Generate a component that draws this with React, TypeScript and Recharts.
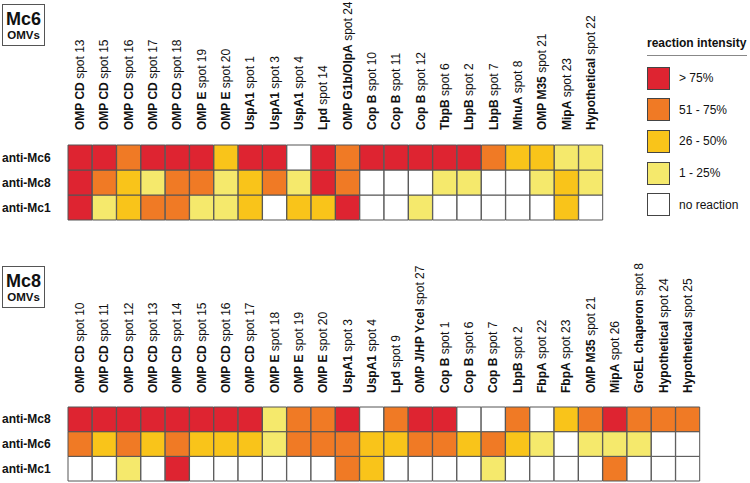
import React from 'react';
import { BarChart, Bar, XAxis, YAxis, Cell } from 'recharts';

const FONT = '"Liberation Sans", Arial, Helvetica, sans-serif';

// colour per reaction level: 0 = none ... 4 = > 75%
const LEVEL_COLORS = ['#ffffff', '#f5e96c', '#f9c41a', '#f07a25', '#de2431'];
const LEVEL_LABELS = ['no reaction', '1 - 25%', '26 - 50%', '51 - 75%', '> 75%'];

// Mc6 OMVs panel
const mc6Proteins = [
  'OMP CD', 'OMP CD', 'OMP CD', 'OMP CD', 'OMP CD', 'OMP E', 'OMP E', 'UspA1', 'UspA1', 'UspA1', 'Lpd',
  'OMP G1b/OlpA', 'Cop B', 'Cop B', 'Cop B', 'TbpB', 'LbpB', 'LbpB', 'MhuA', 'OMP M35', 'MipA', 'Hypothetical',
];
const mc6Spots = [13, 15, 16, 17, 18, 19, 20, 1, 3, 4, 14, 24, 10, 11, 12, 6, 2, 7, 8, 21, 23, 22];
const mc6RowNames = ['anti-Mc6', 'anti-Mc8', 'anti-Mc1'];
const mc6AntiMc6 = [4, 4, 3, 4, 4, 4, 2, 4, 4, 0, 4, 3, 4, 4, 4, 4, 4, 3, 2, 2, 1, 1];
const mc6AntiMc8 = [4, 3, 2, 1, 3, 3, 1, 2, 3, 1, 4, 3, 0, 0, 0, 1, 1, 0, 0, 1, 2, 1];
const mc6AntiMc1 = [4, 1, 2, 3, 3, 1, 1, 2, 0, 2, 2, 4, 0, 0, 1, 0, 0, 0, 0, 0, 2, 0];

// Mc8 OMVs panel
const mc8Proteins = [
  'OMP CD', 'OMP CD', 'OMP CD', 'OMP CD', 'OMP CD', 'OMP CD', 'OMP CD', 'OMP CD', 'OMP E', 'OMP E', 'OMP E',
  'UspA1', 'UspA1', 'Lpd', 'OMP J/HP YceI', 'Cop B', 'Cop B', 'Cop B', 'LbpB', 'FbpA', 'FbpA', 'OMP M35',
  'MipA', 'GroEL chaperon', 'Hypothetical', 'Hypothetical',
];
const mc8Spots = [10, 11, 12, 13, 14, 15, 16, 17, 18, 19, 20, 3, 4, 9, 27, 1, 6, 7, 2, 22, 23, 21, 26, 8, 24, 25];
const mc8RowNames = ['anti-Mc8', 'anti-Mc6', 'anti-Mc1'];
const mc8AntiMc8 = [4, 4, 4, 4, 4, 4, 4, 4, 1, 3, 3, 4, 0, 3, 4, 4, 0, 0, 3, 0, 2, 3, 4, 3, 3, 3];
const mc8AntiMc6 = [3, 2, 3, 2, 3, 2, 2, 2, 1, 3, 3, 3, 2, 2, 3, 3, 2, 3, 2, 1, 0, 1, 1, 1, 0, 0];
const mc8AntiMc1 = [0, 0, 1, 0, 4, 0, 0, 0, 0, 0, 0, 3, 2, 0, 0, 0, 0, 1, 0, 0, 0, 0, 3, 0, 0, 0];

interface PanelProps {
  proteins: string[];
  spots: number[];
  rowNames: string[];
  rows: number[][];
  width: number;
  height: number;
  right: number;
  bottom: number;
  axisHeight: number;
  labelGap: number;
}

function HeatPanel({ proteins, spots, rowNames, rows, width, height, right, bottom, axisHeight, labelGap }: PanelProps) {
  // every cell is one unit tall; the colour carries the value
  const data = proteins.map((p, i) => {
    const d: Record<string, string | number> = { name: `${p} spot ${spots[i]}`, protein: p, spot: spots[i] };
    rowNames.forEach((r) => { d[r] = 1; });
    return d;
  });
  const stackOrder = rowNames.map((_, i) => rowNames.length - 1 - i); // bottom row first

  const XTick = ({ x, y, payload }: any) => {
    const i = payload.index;
    return (
      <g transform={`translate(${x + 4},${y - labelGap}) rotate(-90)`}>
        <text x={0} y={0} textAnchor="start" fontFamily={FONT} fontSize={12} fill="#111">
          <tspan fontWeight="bold">{proteins[i]}</tspan>
          <tspan>{` spot ${spots[i]}`}</tspan>
        </text>
      </g>
    );
  };

  const YTick = ({ y, payload }: any) => {
    const idx = rowNames.length - 1 - Math.floor(payload.value);
    return (
      <text x={2} y={y} dy={4} textAnchor="start" fontFamily={FONT} fontSize={12} fontWeight="bold" fill="#111">
        {rowNames[idx]}
      </text>
    );
  };

  return (
    <BarChart
      width={width}
      height={height}
      data={data}
      margin={{ top: 0, right, bottom, left: 0 }}
      barCategoryGap={0}
      barGap={0}
    >
      <XAxis
        dataKey="name"
        orientation="top"
        height={axisHeight}
        interval={0}
        tickLine={false}
        axisLine={false}
        tickSize={0}
        tickMargin={0}
        tick={<XTick />}
      />
      <YAxis
        type="number"
        domain={[0, rowNames.length]}
        ticks={rowNames.map((_, i) => i + 0.5)}
        width={68}
        tickLine={false}
        axisLine={false}
        tick={<YTick />}
      />
      {stackOrder.map((r) => (
        <Bar key={rowNames[r]} dataKey={rowNames[r]} stackId="grid" isAnimationActive={false}>
          {rows[r].map((v, i) => (
            <Cell key={i} fill={LEVEL_COLORS[v]} stroke="#555" strokeWidth={1} />
          ))}
        </Bar>
      ))}
    </BarChart>
  );
}

function PanelBadge({ title, top }: { title: string; top: number }) {
  return (
    <div
      style={{
        position: 'absolute', left: 2, top, width: 41, height: 40, border: '1px solid #555',
        fontFamily: FONT, fontWeight: 'bold', textAlign: 'center', color: '#111', background: '#fff',
      }}
    >
      <div style={{ fontSize: 18, lineHeight: '20px', marginTop: 4 }}>{title}</div>
      <div style={{ fontSize: 11.5, lineHeight: '13px' }}>OMVs</div>
    </div>
  );
}

function IntensityLegend() {
  const order = [4, 3, 2, 1, 0];
  return (
    <div style={{ position: 'absolute', left: 647, top: 36, width: 103, fontFamily: FONT, color: '#111' }}>
      <div style={{ fontSize: 12, fontWeight: 'bold', paddingBottom: 5, borderBottom: '1px solid #888', width: 100 }}>
        reaction intensity
      </div>
      <div style={{ marginTop: 10 }}>
        {order.map((lvl) => (
          <div key={lvl} style={{ display: 'flex', alignItems: 'center', height: 24, marginBottom: 7.7 }}>
            <span
              style={{
                width: 23, height: 23, background: LEVEL_COLORS[lvl], border: '1px solid #444',
                boxSizing: 'border-box', display: 'inline-block', flexShrink: 0,
              }}
            />
            <span style={{ fontSize: 12, marginLeft: 9 }}>{LEVEL_LABELS[lvl]}</span>
          </div>
        ))}
      </div>
    </div>
  );
}

export default function App() {
  return (
    <div style={{ position: 'absolute', left: 0, top: 0, width: 750, height: 483, background: '#fff', overflow: 'hidden' }}>
      <div style={{ position: 'absolute', left: 0, top: 0 }}>
        <HeatPanel
          proteins={mc6Proteins}
          spots={mc6Spots}
          rowNames={mc6RowNames}
          rows={[mc6AntiMc6, mc6AntiMc8, mc6AntiMc1]}
          width={750}
          height={225}
          right={147}
          bottom={5}
          axisHeight={145}
          labelGap={15}
        />
      </div>
      <div style={{ position: 'absolute', left: 0, top: 240 }}>
        <HeatPanel
          proteins={mc8Proteins}
          spots={mc8Spots}
          rowNames={mc8RowNames}
          rows={[mc8AntiMc8, mc8AntiMc6, mc8AntiMc1]}
          width={750}
          height={243}
          right={50}
          bottom={2}
          axisHeight={167}
          labelGap={14}
        />
      </div>
      <PanelBadge title="Mc6" top={4} />
      <PanelBadge title="Mc8" top={266} />
      <IntensityLegend />
    </div>
  );
}
